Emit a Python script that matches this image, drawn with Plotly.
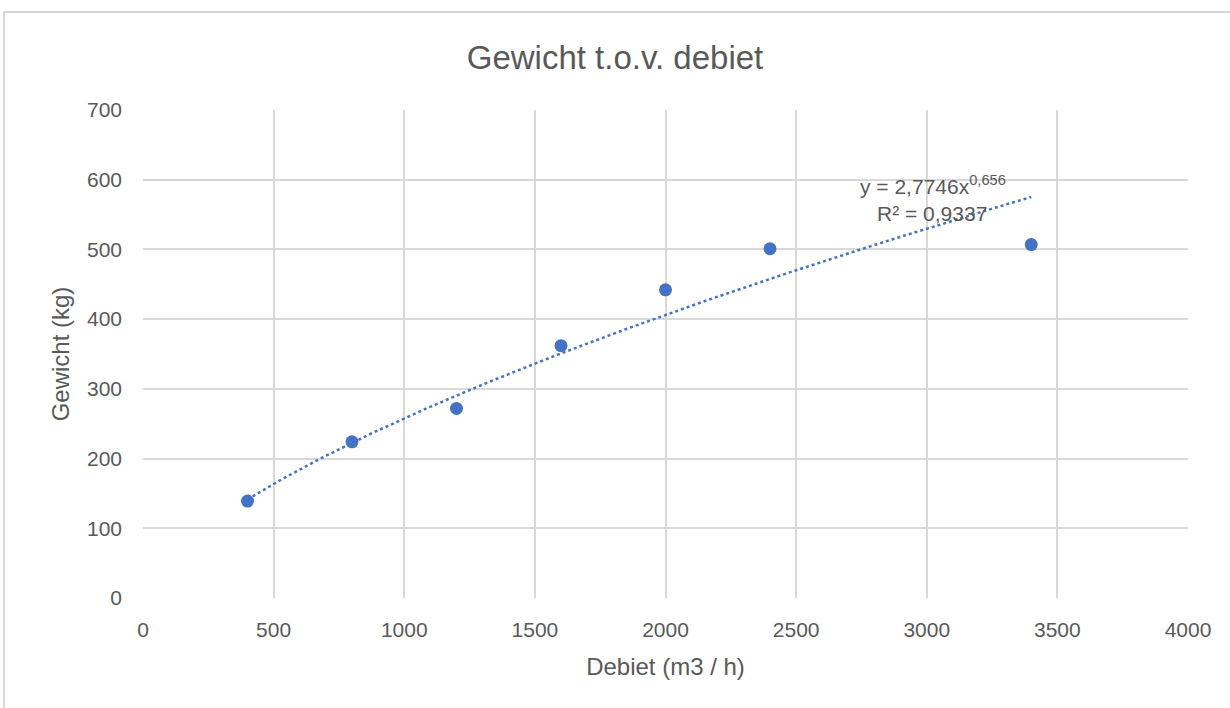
import numpy as np
import plotly.graph_objects as go

# Data
debiet = [400, 800, 1200, 1600, 2000, 2400, 3400]
gewicht = [139, 224, 272, 362, 442, 501, 507]
coef_a = 2.7746
coef_b = 0.656
r2 = 0.9337
x_ticks = [0, 500, 1000, 1500, 2000, 2500, 3000, 3500, 4000]
y_ticks = [0, 100, 200, 300, 400, 500, 600, 700]

FONT = "Liberation Sans, Arial"
GRAY = "#595959"
BLUE = "#4472C4"

xt = np.linspace(min(debiet), max(debiet), 200)
yt = coef_a * xt ** coef_b

fig = go.Figure()
fig.add_trace(go.Scatter(x=xt, y=yt, mode="lines",
                         line=dict(color=BLUE, width=2.5, dash="dot"),
                         hoverinfo="skip", showlegend=False))
fig.add_trace(go.Scatter(x=debiet, y=gewicht, mode="markers",
                         marker=dict(color=BLUE, size=13),
                         showlegend=False))

fig.add_annotation(x=3024, y=592, xref="x", yref="y",
                   text="y = 2,7746x<sup>0,656</sup>", showarrow=False,
                   font=dict(family=FONT, size=21, color=GRAY))
fig.add_annotation(x=3020, y=552, xref="x", yref="y",
                   text="R² = 0,9337", showarrow=False,
                   font=dict(family=FONT, size=21, color=GRAY))

# chart border
fig.add_shape(type="rect", xref="paper", yref="paper",
              x0=-0.133, x1=1.05, y0=-0.25, y1=1.2008,
              line=dict(color="#d9d9d9", width=2), layer="below")

fig.update_layout(
    width=1230, height=708,
    margin=dict(l=143, r=42, t=110, b=110),
    paper_bgcolor="white", plot_bgcolor="white",
    title=dict(text="Gewicht t.o.v. debiet", x=0.5, xanchor="center",
               y=1 - 57 / 708, yanchor="middle",
               font=dict(family=FONT, size=33, color=GRAY)),
    xaxis=dict(range=[0, 4000], tickvals=x_ticks, showgrid=True,
               gridcolor="#d9d9d9", gridwidth=1.5, zeroline=False,
               showline=False, ticks="", ticklabelstandoff=17,
               tickfont=dict(family=FONT, size=21, color=GRAY),
               title=dict(text="Debiet (m3 / h)", standoff=18,
                          font=dict(family=FONT, size=24, color=GRAY))),
    yaxis=dict(range=[0, 700], tickvals=y_ticks, showgrid=True,
               gridcolor="#d9d9d9", gridwidth=1.5, zeroline=False,
               showline=False, ticks="", ticklabelstandoff=20,
               tickfont=dict(family=FONT, size=21, color=GRAY),
               title=dict(text="Gewicht (kg)", standoff=10,
                          font=dict(family=FONT, size=24, color=GRAY))),
)

fig.write_html("out.html", config={"displayModeBar": False},
               post_script="document.body.style.margin='0px';")
